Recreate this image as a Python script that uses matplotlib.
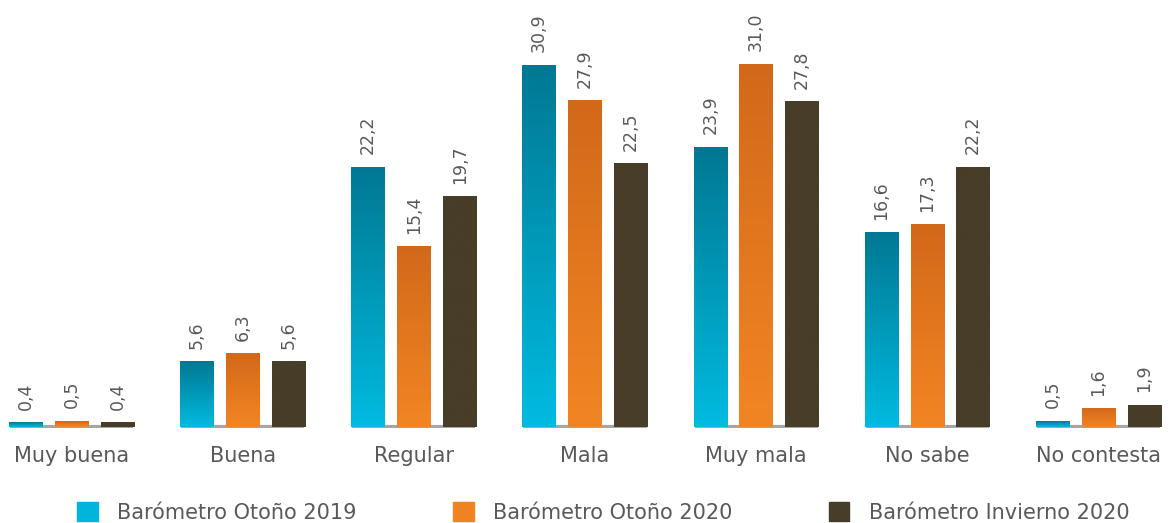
import numpy as np
import matplotlib.pyplot as plt
from matplotlib.colors import LinearSegmentedColormap
from matplotlib.patches import Patch

categories = ['Muy buena', 'Buena', 'Regular', 'Mala', 'Muy mala', 'No sabe', 'No contesta']
series_names = ['Barómetro Otoño 2019', 'Barómetro Otoño 2020', 'Barómetro Invierno 2020']
otono_2019 = [0.4, 5.6, 22.2, 30.9, 23.9, 16.6, 0.5]
otono_2020 = [0.5, 6.3, 15.4, 27.9, 31.0, 17.3, 1.6]
invierno_2020 = [0.4, 5.6, 19.7, 22.5, 27.8, 22.2, 1.9]
series = [otono_2019, otono_2020, invierno_2020]

# gradient (bottom colour, top colour) per series, plus flat legend colour
grads = [('#00BBE0', '#007893'), ('#F28523', '#D2691A'), ('#473D28', '#473D28')]
legend_cols = ['#00B4DC', '#F08222', '#473D28']
text_col = '#595959'

fig = plt.figure(figsize=(11.71, 5.23), dpi=100)
ax = fig.add_axes([10 / 1171, 95 / 523, 1150 / 1171, 428 / 523])

x = np.arange(len(categories))
width = 0.195
offset = 0.268

for k, vals in enumerate(series):
    cmap = LinearSegmentedColormap.from_list('g%d' % k, list(grads[k]))
    grad = np.linspace(0, 1, 256).reshape(-1, 1)
    for i, v in enumerate(vals):
        xc = x[i] + (k - 1) * offset
        bar = ax.bar(xc, v, width=width, color=legend_cols[k], zorder=2)[0]
        im = ax.imshow(grad, cmap=cmap, origin='lower', aspect='auto',
                       extent=(xc - width / 2, xc + width / 2, 0, v), zorder=3)
        im.set_clip_path(bar)
        ax.annotate(f'{v:.1f}'.replace('.', ','), (xc, v), xytext=(0, 9),
                    textcoords='offset points', rotation=90, ha='center', va='bottom',
                    fontsize=12.5, color=text_col)

# grey base line under each group
ax.hlines([0] * len(x), x - 0.36, x + 0.36, color='#A6A6A6', lw=3, zorder=1)

ax.set_xlim(-0.36, len(categories) - 1 + 0.36)
ax.set_ylim(-0.1, 36.45)
ax.set_xticks(x)
ax.set_xticklabels(categories, fontsize=15, color=text_col)
ax.tick_params(axis='x', length=0, pad=13)
ax.set_yticks([])
for s in ax.spines.values():
    s.set_visible(False)

handles = [Patch(color=c) for c in legend_cols]
fig.legend(handles, series_names, loc='lower left', bbox_to_anchor=(58 / 1171, -0.035),
           ncol=3, frameon=False, fontsize=15, labelcolor=text_col,
           handlelength=1.0, handleheight=1.0, handletextpad=0.95, columnspacing=4.6)

fig.savefig('out.png', dpi=100)
